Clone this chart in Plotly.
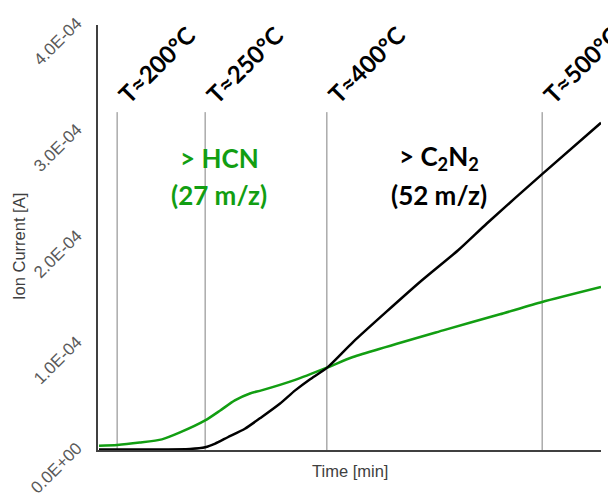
import plotly.graph_objects as go

# ---- data (ion current in A, time in arbitrary minutes 0..100) ----
time_hcn = [0.2, 3.8, 8.3, 12.7, 16.3, 21.3, 24.3, 27.2, 30.2, 32.5, 39.2, 45.5,
            50.7, 68.6, 79.9, 88.3, 100.0]
hcn_current = [0.040e-4, 0.047e-4, 0.07e-4, 0.10e-4, 0.165e-4, 0.278e-4, 0.372e-4,
               0.467e-4, 0.532e-4, 0.561e-4, 0.66e-4, 0.775e-4, 0.875e-4, 1.126e-4,
               1.277e-4, 1.393e-4, 1.534e-4]

time_c2n2 = [0.2, 10.3, 18.3, 21.3, 23.3, 25.8, 29.2, 32.5, 36.2, 39.2, 42.1, 45.5,
             50.7, 64.0, 71.6, 77.3, 88.3, 100.0]
c2n2_current = [0.005e-4, 0.005e-4, 0.01e-4, 0.026e-4, 0.06e-4, 0.12e-4, 0.20e-4,
                0.309e-4, 0.438e-4, 0.561e-4, 0.664e-4, 0.773e-4, 1.016e-4, 1.581e-4,
                1.880e-4, 2.132e-4, 2.597e-4, 3.080e-4]

marker_times = [3.8, 21.3, 45.5, 88.3]
marker_labels = ["T≈200°C", "T≈250°C", "T≈400°C", "T≈500°C"]
marker_top = 3.18e-4

y_tickvals = [0, 1e-4, 2e-4, 3e-4, 4e-4]
y_ticktext = ["0.0E+00", "1.0E-04", "2.0E-04", "3.0E-04", "4.0E-04"]

GREEN = "#129E12"

fig = go.Figure()
fig.add_trace(go.Scatter(x=time_hcn, y=hcn_current, mode="lines",
                         line=dict(color=GREEN, width=2.5, shape="spline", smoothing=0.6),
                         name="HCN"))
fig.add_trace(go.Scatter(x=time_c2n2, y=c2n2_current, mode="lines",
                         line=dict(color="black", width=2.5, shape="spline", smoothing=0.6),
                         name="C2N2"))

for t, lab in zip(marker_times, marker_labels):
    fig.add_shape(type="line", xref="x", yref="y", x0=t, x1=t, y0=0, y1=marker_top,
                  line=dict(color="#808080", width=1), layer="below")
    fig.add_annotation(x=t, y=3.19e-4, xref="x", yref="y", text="<b>%s</b>" % lab,
                       showarrow=False, textangle=-45, xanchor="left", yanchor="bottom",
                       xshift=-8,
                       font=dict(family="Lato", size=24, color="black"))

lab_font = dict(family="Lato", size=26)
fig.add_annotation(x=24.1, y=2.75e-4, xref="x", yref="y", showarrow=False,
                   text="<b>&gt; HCN</b>", font=dict(lab_font, color=GREEN))
fig.add_annotation(x=24.1, y=2.40e-4, xref="x", yref="y", showarrow=False,
                   text="<b>(27 m/z)</b>", font=dict(lab_font, color=GREEN))
fig.add_annotation(x=67.8, y=2.75e-4, xref="x", yref="y", showarrow=False,
                   text="<b>&gt; C<sub>2</sub>N<sub>2</sub></b>",
                   font=dict(lab_font, color="black"))
fig.add_annotation(x=67.8, y=2.40e-4, xref="x", yref="y", showarrow=False,
                   text="<b>(52 m/z)</b>", font=dict(lab_font, color="black"))

fig.add_annotation(x=0, xref="paper", xshift=-79, xanchor="center", y=1.91e-4, yref="y",
                   text="Ion Current [A]", showarrow=False, textangle=-90,
                   font=dict(family="Liberation Sans", size=16.5, color="#404040"))
fig.add_annotation(x=0.5, xref="paper", y=0, yref="paper", yshift=-21,
                   text="Time [min]", showarrow=False, yanchor="middle",
                   font=dict(family="Liberation Sans", size=16.5, color="#404040"))

# the page body adds an 8px offset, so the figure is 8px smaller than the window
fig.update_layout(
    width=608, height=485,
    margin=dict(l=90, r=15, t=17, b=43),
    plot_bgcolor="white", paper_bgcolor="white",
    showlegend=False,
    font=dict(family="Liberation Sans", size=14, color="#404040"),
)
fig.update_xaxes(range=[0, 100], showgrid=False, zeroline=False, showticklabels=False,
                 ticks="", showline=True, linecolor="#404040", linewidth=2,
                 automargin=False)
fig.update_yaxes(range=[0, 4e-4], showgrid=False, zeroline=False, showline=True,
                 linecolor="#404040", linewidth=1.5, tickvals=y_tickvals,
                 ticktext=y_ticktext, tickangle=-45, ticks="", automargin=False,
                 ticklabelstandoff=16, ticklabelshift=-4, ticklabeloverflow="allow",
                 tickfont=dict(family="Liberation Sans", size=17, color="#595959"))

fig.write_html("out.html")
